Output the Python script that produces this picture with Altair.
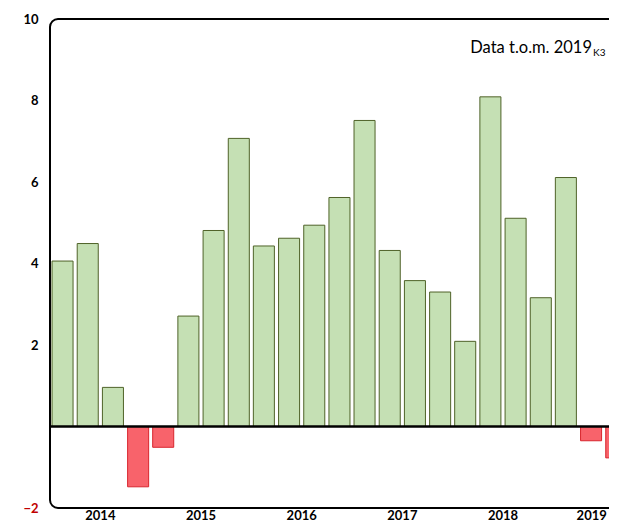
import altair as alt
import pandas as pd

years = ["2014"] * 4 + ["2015"] * 4 + ["2016"] * 4 + ["2017"] * 4 + ["2018"] * 4 + ["2019"] * 3
quarters = ["K1", "K2", "K3", "K4"] * 5 + ["K1", "K2", "K3"]
values = [4.06, 4.49, 0.96, -1.48,
          -0.51, 2.71, 4.81, 7.07,
          4.43, 4.62, 4.94, 5.62,
          7.51, 4.32, 3.58, 3.30,
          2.09, 8.09, 5.11, 3.16,
          6.11, -0.35, -0.77]
y_ticks = [-2, 2, 4, 6, 8, 10]
note_main = "Data t.o.m. 2019"
note_sub = "K3"

df = pd.DataFrame({"year": years, "quarter": quarters, "value": values})

GREEN = "#c5e0b4"
GREEN_S = "#4f6228"
RED = "#f8636b"
RED_S = "#d8262e"
FONT = "Lato"

x_enc = alt.X("year:N", title=None,
              scale=alt.Scale(paddingInner=0, paddingOuter=0),
              axis=alt.Axis(labelAngle=0, ticks=False, domain=False,
                            labelFont=FONT, labelFontSize=13, labelFontWeight="bold",
                            labelColor="black", labelPadding=1,
                            labelOffset=alt.ConditionalAxisNumber(
                                condition={"test": "datum.value == '2019'", "value": -12},
                                value=0)))
y_enc = alt.Y("value:Q", title=None,
              scale=alt.Scale(domain=[-2, 10], nice=False, zero=False),
              axis=alt.Axis(values=y_ticks, ticks=False, domain=False, grid=False,
                            labelFont=FONT, labelFontSize=13, labelFontWeight="bold",
                            labelPadding=12,
                            labelColor=alt.ConditionalAxisColor(
                                condition={"test": "datum.value == -2", "value": "#c00000"},
                                value="black")))

bars = alt.Chart(df).mark_bar(strokeWidth=1).encode(
    x=x_enc,
    xOffset=alt.XOffset("quarter:N", scale=alt.Scale(domain=["K1", "K2", "K3", "K4"],
                                                     paddingInner=0.165, paddingOuter=0.08)),
    y=y_enc,
    y2=alt.datum(0),
    fill=alt.condition(alt.datum.value < 0, alt.value(RED), alt.value(GREEN)),
    stroke=alt.condition(alt.datum.value < 0, alt.value(RED_S), alt.value(GREEN_S)),
)

zero = alt.Chart(pd.DataFrame({"z": [0]})).mark_rule(color="black", strokeWidth=2.5).encode(
    y=alt.Y("z:Q")
)

note = alt.Chart(pd.DataFrame({"t": [note_main]})).mark_text(
    align="right", baseline="alphabetic", font=FONT, fontSize=16.5, color="black"
).encode(x=alt.value(542), y=alt.value(34), text="t:N")

sub = alt.Chart(pd.DataFrame({"t": [note_sub]})).mark_text(
    align="left", baseline="alphabetic", font=FONT, fontSize=10, color="black"
).encode(x=alt.value(543), y=alt.value(37), text="t:N")

chart = alt.layer(bars, zero, note, sub).properties(
    width=604, height=489,
    background="white",
    autosize=alt.AutoSizeParams(type="none"),
    padding={"left": 42, "top": 11, "right": -45, "bottom": 15},
).configure_view(
    stroke="black", strokeWidth=2, cornerRadius=8, fill="white"
)

chart.save("out.html", embed_options={"renderer": "svg", "actions": False})
